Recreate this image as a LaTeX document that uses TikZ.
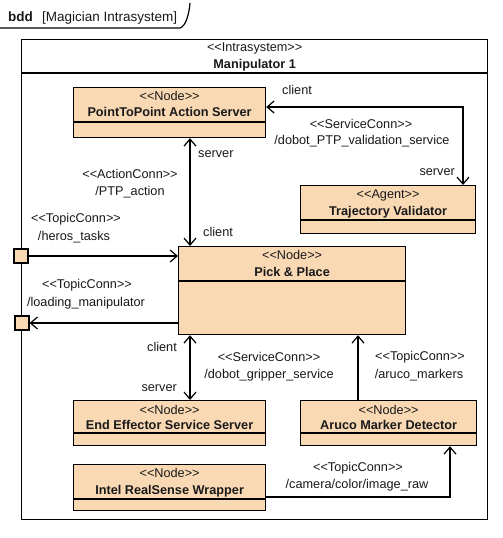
\documentclass[tikz,border=0pt]{standalone}
\usepackage{fontspec}
\setmainfont{Liberation Sans}
\usetikzlibrary{arrows.meta,calc}
\definecolor{peach}{RGB}{249,216,180}
\newcommand\stt[1]{<\kern0pt<#1>\kern0pt>}
\begin{document}
\begin{tikzpicture}[x=1pt,y=-1pt,
  every node/.style={font=\fontsize{12.7}{14}\selectfont, inner sep=0pt, text=black!90},
  blockbox/.style={draw=black, fill=peach, line width=1.2pt, anchor=north west},
  framebox/.style={draw=black, line width=1.3pt, anchor=north west},
  sepline/.style={draw=black, line width=1.1pt},
  bname/.style={font=\fontsize{12.7}{14}\selectfont\bfseries},
  conn/.style={draw=black, line width=1.2pt},
  tip/.tip={Straight Barb[length=7pt,width=12pt,line width=1.2pt]},
  uni/.style={conn, -tip},
  bi/.style={conn, tip-tip},
  portbox/.style={draw=black, fill=peach, line width=1.2pt, minimum size=14pt}
]
\fill[white] (0,0) rectangle (503,538);
\useasboundingbox (0,0) rectangle (503,538);

% diagram tab
\node[anchor=base west, font=\fontsize{13.5}{15}\selectfont\bfseries] (bdd) at (8,21) {bdd};
\node[anchor=base west, font=\fontsize{13.5}{15}\selectfont] (tabname) at (42,21) {[Magician Intrasystem]};
\draw[line width=1.2pt] (0,28) -- (180,28) .. controls (186,26) and (189,14) .. (190,3);

% Manipulator 1 block
\node[framebox, minimum width=466pt, minimum height=480pt] (man) at (21,39) {};
\draw[sepline] ([yshift=-34pt]man.north west) -- ([yshift=-34pt]man.north east);
\node at ([yshift=-9pt]man.north) {\stt{Intrasystem}};
\node[bname] at ([yshift=-26pt]man.north) {Manipulator 1};

% PointToPoint Action Server
\node[blockbox, minimum width=192pt, minimum height=50pt] (ptp) at (73,87) {};
\draw[sepline] ([yshift=-35pt]ptp.north west) -- ([yshift=-35pt]ptp.north east);
\node at ([yshift=-9pt]ptp.north) {\stt{Node}};
\node[bname] at ([yshift=-25pt]ptp.north) {PointToPoint Action Server};

% Trajectory Validator
\node[blockbox, minimum width=175pt, minimum height=48pt] (tv) at (300,185) {};
\draw[sepline] ([yshift=-35pt]tv.north west) -- ([yshift=-35pt]tv.north east);
\node at ([yshift=-10pt]tv.north) {\stt{Agent}};
\node[bname] at ([yshift=-27pt]tv.north) {Trajectory Validator};

% Pick & Place
\node[blockbox, minimum width=227pt, minimum height=88pt] (pp) at (178,246) {};
\draw[sepline] ([yshift=-35pt]pp.north west) -- ([yshift=-35pt]pp.north east);
\node at ([yshift=-9pt]pp.north) {\stt{Node}};
\node[bname] at ([yshift=-26pt]pp.north) {Pick \& Place};

% End Effector Service Server
\node[blockbox, minimum width=192pt, minimum height=45pt] (ee) at (73,400) {};
\draw[sepline] ([yshift=-33pt]ee.north west) -- ([yshift=-33pt]ee.north east);
\node at ([yshift=-10pt]ee.north) {\stt{Node}};
\node[bname] at ([yshift=-25pt]ee.north) {End Effector Service Server};

% Aruco Marker Detector
\node[blockbox, minimum width=176pt, minimum height=45pt] (am) at (300,400) {};
\draw[sepline] ([yshift=-33pt]am.north west) -- ([yshift=-33pt]am.north east);
\node at ([yshift=-10pt]am.north) {\stt{Node}};
\node[bname] at ([yshift=-25pt]am.north) {Aruco Marker Detector};

% Intel RealSense Wrapper
\node[blockbox, minimum width=192pt, minimum height=46pt] (irw) at (73,464) {};
\draw[sepline] ([yshift=-35pt]irw.north west) -- ([yshift=-35pt]irw.north east);
\node at ([yshift=-9pt]irw.north) {\stt{Node}};
\node[bname] at ([yshift=-27pt]irw.north) {Intel RealSense Wrapper};

% ports
\node[portbox] (port1) at (21,256) {};
\node[portbox] (port2) at (22,323) {};

% connectors
\draw[bi] ([xshift=117pt]ptp.south west) -- ([xshift=12pt]pp.north west);
\node[anchor=west] at (198,154) {server};
\node[anchor=west] at (203,232) {client};
\node at (130,174) {\stt{ActionConn}};
\node at (130,192) {/PTP\_action};

\draw[bi] ([yshift=-20pt]ptp.north east) -| ([xshift=163pt]tv.north west);
\node[anchor=west] at (282,90) {client};
\node at (361,124) {\stt{ServiceConn}};
\node at (362,141) {/dobot\_PTP\_validation\_service};
\node[anchor=east] at (455,172) {server};

\draw[uni] (port1.east) -- (port1.east -| pp.west);
\node at (76,219) {\stt{TopicConn}};
\node at (74,237) {/heros\_tasks};

\draw[uni] (port2.east -| pp.west) -- (port2.east);
\node at (87,285) {\stt{TopicConn}};
\node at (86,303) {/loading\_manipulator};

\draw[bi] ([xshift=12pt]pp.south west) -- ([xshift=117pt]ee.north west);
\node[anchor=east] at (177,347) {client};
\node[anchor=east] at (177,388) {server};
\node at (269,357) {\stt{ServiceConn}};
\node at (269,375) {/dobot\_gripper\_service};

\draw[uni] ([xshift=58pt]am.north west) -- ([xshift=58pt]am.north west |- pp.south);
\node at (420,357) {\stt{TopicConn}};
\node at (419,375) {/aruco\_markers};

\draw[uni] ([yshift=-33pt]irw.north east) -| ([xshift=150pt]am.south west);
\node at (358,468) {\stt{TopicConn}};
\node at (357,485) {/camera/color/image\_raw};
\end{tikzpicture}
\end{document}
